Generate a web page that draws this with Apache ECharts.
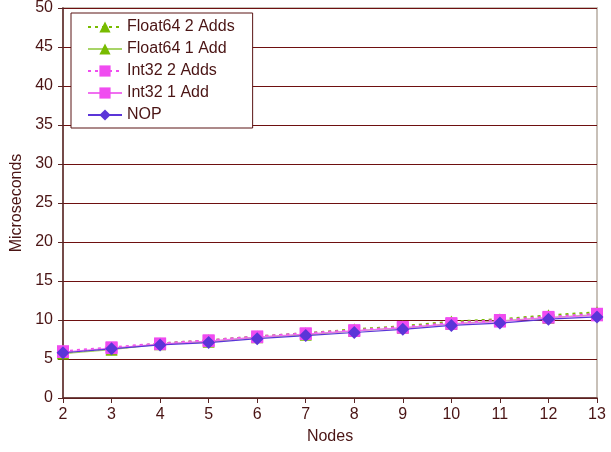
<!DOCTYPE html>
<html>
<head>
<meta charset="utf-8">
<script src="https://cdn.jsdelivr.net/npm/echarts@6/dist/echarts.min.js"></script>
<style>
  html, body { margin: 0; padding: 0; background: #fff; }
  #chart { width: 611px; height: 452px; }
</style>
</head>
<body>
<div id="chart"></div>
<script>
// 节点数
const nodes = [2, 3, 4, 5, 6, 7, 8, 9, 10, 11, 12, 13]
// 各序列（微秒）
const float64TwoAdds = [5.8, 6.3, 7.0, 7.4, 7.9, 8.3, 8.8, 9.2, 9.8, 10.1, 10.6, 11.0]
const float64OneAdd = [5.7, 6.2, 6.9, 7.2, 7.8, 8.1, 8.6, 9.0, 9.5, 9.9, 10.3, 10.7]
const int32TwoAdds = [6.0, 6.5, 7.0, 7.4, 7.9, 8.3, 8.7, 9.1, 9.6, 10.0, 10.4, 10.8]
const int32OneAdd = [5.9, 6.4, 6.9, 7.3, 7.8, 8.2, 8.6, 9.0, 9.5, 9.8, 10.3, 10.6]
const nop = [5.8, 6.3, 6.8, 7.1, 7.6, 8.0, 8.4, 8.8, 9.3, 9.6, 10.1, 10.4]

const textColor = '#4a1414'
const axisColor = '#5a2424'
const font = 'Liberation Sans, Arial, sans-serif'

function pairs(values) {
  return nodes.map((n, i) => [n, values[i]])
}

function makeSeries(name, values, color, lineColor, symbol, size, dashed) {
  return {
    name,
    type: 'line',
    data: pairs(values),
    symbol,
    symbolSize: size,
    itemStyle: { color },
    lineStyle: { color: lineColor, width: dashed ? 2 : 1.2, type: dashed ? [3, 4] : 'solid' },
    emphasis: { disabled: true },
    animation: false,
  }
}

const chart = echarts.init(document.getElementById('chart'))
chart.setOption({
  backgroundColor: '#fff',
  textStyle: { fontFamily: font },
  grid: {
    left: 63, right: 14, top: 8, bottom: 54,
    show: true, borderColor: '#c8c0b8', borderWidth: 2, backgroundColor: 'transparent',
  },
  legend: {
    orient: 'vertical',
    left: 71, top: 13,
    padding: [6, 18, 5, 16],
    itemGap: 6,
    itemWidth: 34,
    itemHeight: 14,
    borderColor: '#5a1414',
    borderWidth: 1,
    backgroundColor: '#fff',
    textStyle: { color: textColor, fontSize: 16, fontFamily: font },
    data: ['Float64 2 Adds', 'Float64 1 Add', 'Int32 2 Adds', 'Int32 1 Add', 'NOP'],
  },
  xAxis: {
    type: 'value',
    min: 2, max: 13, interval: 1,
    name: 'Nodes',
    nameLocation: 'middle',
    nameGap: 31,
    nameTextStyle: { color: textColor, fontSize: 16 },
    axisLine: { lineStyle: { color: axisColor, width: 1.5 } },
    axisTick: { show: true, length: 5, lineStyle: { color: axisColor } },
    axisLabel: { color: textColor, fontSize: 16, margin: 9 },
    splitLine: { show: false },
  },
  yAxis: {
    type: 'value',
    min: 0, max: 50, interval: 5,
    name: 'Microseconds',
    nameLocation: 'middle',
    nameGap: 37,
    nameTextStyle: { color: textColor, fontSize: 16 },
    axisLine: { show: true, lineStyle: { color: axisColor, width: 1.5 } },
    axisTick: { show: true, length: 5, lineStyle: { color: axisColor } },
    axisLabel: { color: textColor, fontSize: 16, margin: 10 },
    splitLine: { show: true, lineStyle: { color: '#6e1010', width: 1 } },
  },
  series: [
    makeSeries('Float64 2 Adds', float64TwoAdds, '#78bb00', '#78bb00', 'triangle', 12, true),
    makeSeries('Float64 1 Add', float64OneAdd, '#78bb00', '#a8d468', 'triangle', 12, false),
    makeSeries('Int32 2 Adds', int32TwoAdds, '#f04cf0', '#f04cf0', 'rect', 12, true),
    makeSeries('Int32 1 Add', int32OneAdd, '#f04cf0', '#f070f0', 'rect', 12, false),
    makeSeries('NOP', nop, '#5b35d8', '#5b35d8', 'diamond', 13, false),
  ],
})
</script>
</body>
</html>
